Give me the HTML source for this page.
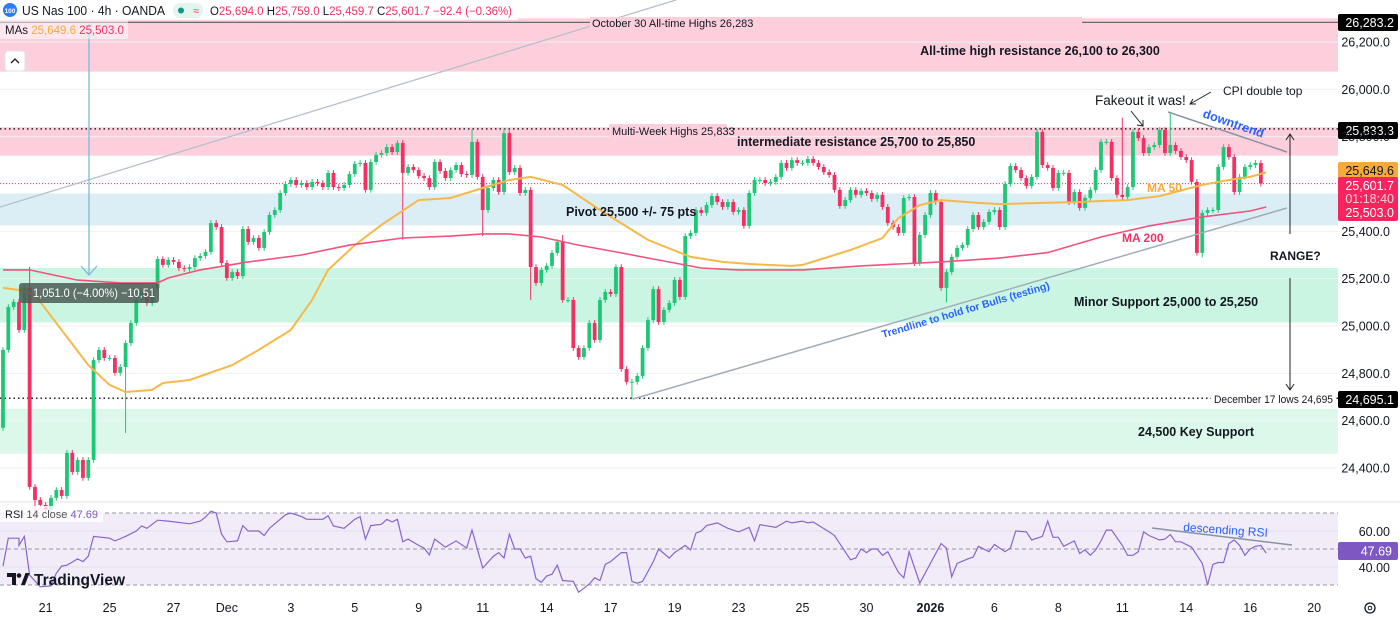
<!DOCTYPE html>
<html><head><meta charset="utf-8"><style>
html,body{margin:0;padding:0;background:#fff;}
svg{display:block;font-family:"Liberation Sans",sans-serif;}
</style></head><body>
<svg id="c" width="1400" height="620" viewBox="0 0 1400 620" xmlns="http://www.w3.org/2000/svg">
<g id="bg"></g>
<g id="marks"></g>
<g id="ann"></g>
<g id="axes"></g>
</svg>
<script>
const priceTicks=[26200,26000,25800,25400,25200,25000,24800,24600,24400];
const priceTickLabels=["26,200.0","26,000.0","25,800.0","25,400.0","25,200.0","25,000.0","24,800.0","24,600.0","24,400.0"];
const dateLabels=["21","25","27","Dec","3","5","9","11","14","17","19","23","25","30","2026","6","8","11","14","16","20"];
const dateIdx=[8,20,32,42,54,66,78,90,102,114,126,138,150,162,174,186,198,210,222,234,246];
const firstOpen=24570;
const closes=[24899,25080,25102,24983,25161,24320,24265,24244,24223,24274,24307,24282,24464,24383,24434,24358,24434,24856,24899,24865,24865,24802,24827,24928,25013,25110,25144,25097,25161,25283,25258,25279,25271,25245,25241,25249,25287,25296,25313,25435,25418,25266,25203,25228,25211,25410,25355,25372,25330,25397,25469,25490,25562,25600,25617,25596,25604,25587,25609,25604,25587,25647,25587,25583,25596,25642,25685,25689,25575,25693,25723,25731,25756,25735,25773,25647,25672,25659,25634,25625,25587,25693,25655,25625,
25659,25680,25642,25638,25778,25630,25490,25583,25617,25566,25815,25650,25668,25562,25575,25249,
25182,25237,25254,25309,25355,25110,25110,24907,24869,24907,25013,24941,25110,25144,25135,25249,24818,24764,24764,24789,24907,25025,25156,25017,25068,25097,25195,25123,25380,25393,25490,25478,25511,25549,25524,25503,25524,25482,25490,25423,25562,25617,25617,25604,25609,25630,25689,25668,25701,25689,25689,25706,25689,25672,25650,25638,25575,25507,25532,25575,25554,25571,25562,25537,25554,25503,25435,25418,25393,25541,25545,25266,25385,25469,25562,25524,25161,25228,25292,25330,25342,25410,25469,25418,25440,25482,25490,25418,25600,25676,25659,25625,25592,25630,25820,25680,25668,25583,25647,25647,25524,25566,25499,25541,25575,25659,25778,25778,25625,25554,25545,25587,25820,25794,25731,25756,25765,25828,25731,25765,25740,25714,25701,25609,25309,25478,25490,25490,25672,25756,25714,25566,25630,25672,25680,25689,25602];
const wickIdx=[5,6,23,75,88,90,94,99,105,118,177,210,219,225,237];
const wickHigh=[25250,null,null,null,25830,null,25835,null,25385,null,null,25880,25905,null,25759];
const wickLow=[null,24180,24548,25365,null,25380,null,25110,null,24690,25100,null,null,25290,25460];
const ma50Idx=[0,3,6,11,16,20,23,28,30,35,43,48,54,58,61,66,71,78,84,90,95,99,105,112,121,129,135,140,148,150,153,159,165,168,172,176,183,187,195,202,206,211,217,225,230,234,237];
const ma50Val=[25161,25152,25131,24983,24835,24751,24721,24730,24759,24772,24835,24899,24983,25110,25237,25342,25427,25532,25541,25583,25617,25630,25596,25490,25364,25292,25271,25262,25254,25258,25279,25321,25372,25456,25511,25532,25520,25515,25520,25524,25528,25532,25549,25596,25617,25630,25649];
const ma200Idx=[0,5,14,22,29,31,37,46,56,65,75,84,90,95,101,108,116,123,131,138,150,161,168,176,187,196,206,215,225,234,237];
const ma200Val=[25237,25237,25194,25182,25182,25203,25237,25271,25300,25342,25372,25380,25389,25389,25376,25342,25309,25279,25245,25237,25237,25254,25262,25271,25287,25310,25376,25423,25461,25486,25503];
const rsiIdx=[0,1,3,3,4,5,7,9,10,11,12,14,15,16,17,20,21,23,25,26,27,29,31,35,37,38,39,40,41,42,44,45,46,48,49,50,51,53,54,56,57,60,61,62,64,66,67,68,69,71,72,73,74,75,76,78,79,80,81,83,85,87,88,90,92,93,94,95,96,97,98,99,100,101,102,103,104,105,107,108,110,111,112,113,114,116,117,118,119,120,122,123,125,126,128,129,130,131,132,134,136,138,140,141,142,145,147,148,150,151,152,155,156,159,160,161,162,163,164,165,166,168,169,170,172,174,176,177,178,179,181,182,183,185,186,188,189,190,192,193,195,196,197,198,199,201,202,203,204,205,206,207,208,210,211,212,213,214,215,217,218,219,220,221,223,225,226,227,228,229,230,231,232,233,234,235,236,237];
const rsiVal=[40.5,56,56,52,57,35.5,29,29.5,36.5,40.5,41,44.5,43,46,57,56,54.5,57,60,62.8,61.5,66,65.5,64,65.5,67.7,71,70,58.3,54,54.5,63,60,60,57.5,61.5,64,69,70,68,66.5,66.5,68.5,62.8,61.5,66.5,68,55.5,63,63.7,66.5,65,66.5,54,55.5,52,50.5,46.7,55.5,51,54.5,50.5,60.5,39.4,46,48,45,58.3,50,50,45,46,33.5,31.5,35,36,41,32.5,32,26,30.5,34,32.5,41.5,43,48,48,32,31,32,43,50,45,48,52,49.5,58.8,60,63,64.5,61.5,59.5,62,54.5,63.5,62,65.5,64.5,65.5,64.5,65,59.5,57.5,44,45,50,48,50,50,46.5,48.5,37,34,48.5,31,42,53,50.5,34.5,42,44.5,45.5,51.5,48.5,52.5,48.5,50.5,60,59.5,55,57,65.5,56.5,56.5,51.5,54.5,47.5,49.5,46.5,49.5,54.5,60.5,60.5,52,46.5,46.5,48.5,59.5,57.5,55,55.5,58,54,54,51,42,30,41.5,42.5,42.5,53,55,52,46.5,50,51.5,52,47.69];

const NS="http://www.w3.org/2000/svg";
function xS(i){return 3+i*5.33;}
function yP(p){return 42+(26200-p)*0.23667;}
function yR(v){return 549-(v-50)*1.8;}
function mk(tag,attrs,parent,text){const e=document.createElementNS(NS,tag);for(const k in attrs)e.setAttribute(k,attrs[k]);if(text!==undefined)e.textContent=text;document.getElementById(parent).appendChild(e);return e;}

const zoneLo=[26075,25720,25425,25015,24460];
const zoneHi=[26300,25840,25560,25245,24650];
const zoneFill=["#fdcfdd","#fdcfdd","#dbeef5","#c9f5e2","#dcf8ea"];
const zoneNames=["ath-resistance-zone","intermediate-resistance-zone","pivot-zone","minor-support-zone","key-support-zone"];
for(let i=0;i<zoneLo.length;i++){const r=mk('rect',{x:0,y:yP(zoneHi[i]),width:1338,height:yP(zoneLo[i])-yP(zoneHi[i]),fill:zoneFill[i]},'bg');

}
for(let i=0;i<priceTicks.length;i++){const g=mk('line',{x1:0,x2:1338,y1:yP(priceTicks[i]),y2:yP(priceTicks[i]),stroke:"#f0f1f3","stroke-width":1},'bg');

}
const rb=mk('rect',{x:0,y:yR(70),width:1338,height:yR(30)-yR(70),fill:"#f1ecf8"},'bg');


const sep=mk('line',{x1:0,x2:1400,y1:502,y2:502,stroke:"#e0e3eb","stroke-width":1},'bg');


[70,50,30].forEach(v=>{const l=mk('line',{x1:0,x2:1338,y1:yR(v),y2:yR(v),stroke:"#9598a1","stroke-width":1,"stroke-dasharray":"4 3"},'bg');

});
[60,40].forEach(v=>{const l=mk('line',{x1:0,x2:1338,y1:yR(v),y2:yR(v),stroke:"#e4dcef","stroke-width":1},'bg');

});

const athL=mk('line',{x1:0,x2:1338,y1:yP(26283),y2:yP(26283),stroke:"#6b6b6b","stroke-width":1.3},'bg');


[25833,24695].forEach(p=>{const l=mk('line',{x1:0,x2:1338,y1:yP(p),y2:yP(p),stroke:"#222","stroke-width":1.5,"stroke-dasharray":"1.5 3"},'bg');

});
const cur=mk('line',{x1:0,x2:1338,y1:yP(25601.7),y2:yP(25601.7),stroke:"#f23064","stroke-width":1,"stroke-dasharray":"1 2"},'bg');



const tl1=mk('line',{x1:0,y1:207,x2:676,y2:0,stroke:"#b7bfcc","stroke-width":1.3},'bg');



let prev=firstOpen;
for(let i=0;i<closes.length;i++){
  const o=prev,c=closes[i];prev=c;
  const up=c>=o;const col=up?"#1ec776":"#f23064";
  let hi=Math.max(o,c)+12,lo=Math.min(o,c)-12;
  const w=wickIdx.indexOf(i);
  if(w>=0){if(wickHigh[w]!==null)hi=wickHigh[w];if(wickLow[w]!==null)lo=wickLow[w];}
  const x=xS(i);
  const wl=mk('line',{x1:x,x2:x,y1:yP(hi),y2:yP(lo),stroke:col,"stroke-width":1},'marks');
  
  
  const top=yP(Math.max(o,c)),bot=yP(Math.min(o,c));
  const b=mk('rect',{x:x-1.9,y:top,width:3.8,height:Math.max(1,bot-top),fill:col},'marks');
  
  
}
function path(idx,val,fy){return idx.map((d,i)=>(i?'L':'M')+xS(d).toFixed(1)+' '+fy(val[i]).toFixed(1)).join(' ');}
const m50=mk('path',{d:path(ma50Idx,ma50Val,yP),fill:"none",stroke:"#f7b84a","stroke-width":2},'marks');


const m200=mk('path',{d:path(ma200Idx,ma200Val,yP),fill:"none",stroke:"#f2527c","stroke-width":1.6},'marks');


const rl=mk('path',{d:path(rsiIdx,rsiVal,yR),fill:"none",stroke:"#8766cc","stroke-width":1.2},'marks');



for(let i=0;i<priceTicks.length;i++){const t=mk('text',{x:1390,y:yP(priceTicks[i])+4.5,"font-size":12.5,fill:"#131722","text-anchor":"end"},'axes',priceTickLabels[i]);

}
for(let i=0;i<dateLabels.length;i++){const t=mk('text',{x:xS(dateIdx[i]),y:612,"font-size":12.5,fill:"#131722","text-anchor":"middle","font-weight":dateLabels[i]==="2026"?"bold":"normal"},'axes',dateLabels[i]);

}
</script>
<script>
const A=document.getElementById('ann');
A.innerHTML=`
<line x1="633" y1="399" x2="1287" y2="208" stroke="#a3acba" stroke-width="1.5"/>
<line x1="1168" y1="112" x2="1287" y2="152" stroke="#8a93a3" stroke-width="1.5"/>
<line x1="1152" y1="528" x2="1292" y2="545" stroke="#8a93a3" stroke-width="1.5"/>
<g><line x1="89" y1="24" x2="89" y2="274" stroke="#7fb8d6" stroke-width="1.3"/><path d="M81 266 L89 275 L97 266" fill="none" stroke="#7fb8d6" stroke-width="1.3"/></g>
<g><rect x="19" y="283" width="140" height="20" rx="3" fill="#4b5a55" opacity="0.85"/><text x="33" y="297" font-size="12" fill="#fff" textLength="122" lengthAdjust="spacingAndGlyphs">1,051.0 (−4.00%) −10,51</text></g>
<g><line x1="1290" y1="234" x2="1290" y2="134" stroke="#222" stroke-width="1"/><path d="M1286 140 L1290 134 L1294 140" fill="none" stroke="#222"/><line x1="1290" y1="278" x2="1290" y2="390" stroke="#222" stroke-width="1"/><path d="M1286 384 L1290 390 L1294 384" fill="none" stroke="#222"/></g>
<text x="1270" y="260" font-size="12" font-weight="bold" fill="#131722">RANGE?</text>
<text x="1095" y="105" font-size="13.5" fill="#131722">Fakeout it was!</text>
<path d="M1131 111 L1143 126 M1137 125 L1143 126 L1143 120" fill="none" stroke="#222"/>
<text x="1223" y="95" font-size="12" fill="#131722">CPI double top</text>
<path d="M1211 92 L1190 104 M1196 104 L1190 104 L1193 99" fill="none" stroke="#222"/>
<text x="1202" y="117" font-size="12.5" font-weight="bold" fill="#2962ff" transform="rotate(19 1202 117)">downtrend</text>
<text x="883" y="338" font-size="10.5" font-weight="bold" fill="#2962ff" transform="rotate(-16.5 883 338)">Trendline to hold for Bulls (testing)</text>
<text x="1147" y="192" font-size="12" font-weight="bold" fill="#f7a93a">MA 50</text>
<text x="1122" y="242" font-size="12" font-weight="bold" fill="#f23064">MA 200</text>
<text x="1183" y="531" font-size="12" fill="#2962ff" transform="rotate(4 1183 531)">descending RSI</text>
<text x="1040" y="55" font-size="12.5" font-weight="bold" fill="#131722" text-anchor="middle">All-time high resistance 26,100 to 26,300</text>
<text x="737" y="146" font-size="12.5" font-weight="bold" fill="#131722">intermediate resistance 25,700 to 25,850</text>
<text x="566" y="216" font-size="12.5" font-weight="bold" fill="#131722">Pivot 25,500 +/- 75 pts</text>
<text x="1074" y="306" font-size="12.5" font-weight="bold" fill="#131722">Minor Support 25,000 to 25,250</text>
<text x="1138" y="436" font-size="12.5" font-weight="bold" fill="#131722">24,500 Key Support</text>
<rect x="590" y="17" width="492" height="12" fill="#fdcfdd"/>
<text x="592" y="27" font-size="11" fill="#131722">October 30 All-time Highs 26,283</text>
<rect x="609" y="124" width="118" height="13" fill="#fdcfdd"/>
<text x="612" y="135" font-size="11" fill="#131722">Multi-Week Highs 25,833</text>
<rect x="1211" y="392" width="125" height="13" fill="#fff"/>
<text x="1214" y="403" font-size="11" fill="#131722" textLength="119" lengthAdjust="spacingAndGlyphs">December 17 lows 24,695</text>
<g>
<rect x="1338" y="14" width="60" height="17" rx="2" fill="#000"/><text x="1394" y="27" font-size="12.5" fill="#fff" text-anchor="end">26,283.2</text>
<rect x="1338" y="122" width="60" height="17" rx="2" fill="#000"/><text x="1394" y="135" font-size="12.5" fill="#fff" text-anchor="end">25,833.3</text>
<rect x="1338" y="162" width="60" height="17" rx="2" fill="#f7a93a"/><text x="1394" y="175" font-size="12.5" fill="#131722" text-anchor="end">25,649.6</text>
<rect x="1338" y="177" width="60" height="44" rx="2" fill="#f7245e"/><text x="1394" y="190" font-size="12.5" fill="#fff" text-anchor="end">25,601.7</text><text x="1394" y="203" font-size="12.5" fill="#ffd0dc" text-anchor="end">01:18:40</text><text x="1394" y="217" font-size="12.5" fill="#fff" text-anchor="end">25,503.0</text>
<rect x="1338" y="391" width="60" height="17" rx="2" fill="#000"/><text x="1394" y="404" font-size="12.5" fill="#fff" text-anchor="end">24,695.1</text>
<text x="1390" y="536" font-size="12.5" fill="#131722" text-anchor="end">60.00</text>
<rect x="1338" y="542" width="60" height="18" rx="2" fill="#7e57c2"/><text x="1392" y="555.5" font-size="12.5" fill="#fff" text-anchor="end">47.69</text>
<text x="1390" y="572" font-size="12.5" fill="#131722" text-anchor="end">40.00</text>
</g>
<g>
<rect x="0" y="1" width="518" height="19" fill="#fff" opacity="0.9"/>
<circle cx="10" cy="10" r="7" fill="#2d7cf6"/><text x="10" y="13" font-size="6.5" fill="#fff" text-anchor="middle" font-weight="bold">100</text>
<text x="22" y="15" font-size="13" fill="#131722" textLength="143" lengthAdjust="spacingAndGlyphs">US Nas 100 · 4h · OANDA</text>
<rect x="173" y="3" width="30" height="15" rx="7" fill="#e4f5ee"/><circle cx="181" cy="10.5" r="3" fill="#089981"/><text x="193" y="14.5" font-size="11" fill="#f23064">≈</text>
<text x="210" y="15" font-size="11.5" fill="#f23064" textLength="302" lengthAdjust="spacingAndGlyphs"><tspan fill="#131722">O</tspan>25,694.0 <tspan fill="#131722">H</tspan>25,759.0 <tspan fill="#131722">L</tspan>25,459.7 <tspan fill="#131722">C</tspan>25,601.7 −92.4 (−0.36%)</text>
<rect x="0" y="20" width="128" height="19" fill="#fff" opacity="0.5"/>
<text x="5" y="34" font-size="11.5" fill="#131722">MAs <tspan fill="#f7a93a">25,649.6</tspan> <tspan fill="#f23064">25,503.0</tspan></text>
<rect x="5" y="51" width="20" height="20" rx="3" fill="#fff" stroke="#e0e3eb"/><path d="M11 63 L15 59 L19 63" fill="none" stroke="#131722" stroke-width="1.3"/>
</g>
<g><rect x="0" y="506" width="103" height="16" fill="#fff" opacity="0.8"/><text x="5" y="518" font-size="11" fill="#131722">RSI <tspan fill="#555">14 close</tspan> <tspan fill="#7e57c2">47.69</tspan></text></g>
<g><path d="M7 573 h9 v12 h-4 v-8 h-5z" fill="#131722"/><circle cx="19" cy="575.5" r="2.3" fill="#131722"/><path d="M21 585 l4.5 -12 h4 l-4.5 12z" fill="#131722"/><text x="34" y="585" font-size="15.5" font-weight="bold" fill="#131722">TradingView</text></g>
<g><circle cx="1370" cy="608" r="5" fill="none" stroke="#131722" stroke-width="1.3"/><circle cx="1370" cy="608" r="1.8" fill="none" stroke="#131722"/></g>
`;
</script>
</body></html>
